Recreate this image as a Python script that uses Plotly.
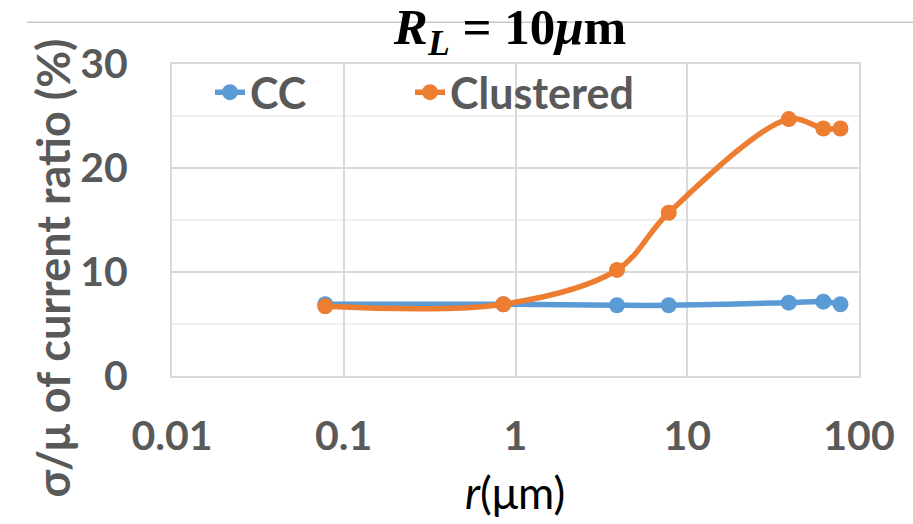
import plotly.graph_objects as go

# Radius r (µm) and relative spread σ/µ of the current ratio (%)
r_um = [0.078, 0.85, 3.9, 7.8, 39, 62, 78]
cc_pct = [6.9, 6.9, 6.8, 6.8, 7.05, 7.15, 6.9]
clustered_pct = [6.7, 6.9, 10.2, 15.7, 24.7, 23.8, 23.8]

x_ticks = [0.01, 0.1, 1, 10, 100]
x_tick_text = ["0.01", "0.1", "1", "10", "100"]
y_ticks = [0, 10, 20, 30]

BLUE = "#5B9BD5"
ORANGE = "#ED7D31"
GRID = "#D9D9D9"
LABEL = "#595959"
FONT = "Lato"

legend_font = dict(family=FONT, size=43, color=LABEL, weight="bold")

fig = go.Figure()
fig.add_trace(go.Scatter(
    x=r_um, y=cc_pct, name="CC", mode="lines+markers",
    line=dict(color=BLUE, width=5.5, shape="spline", smoothing=1),
    marker=dict(color=BLUE, size=16),
    legend="legend",
))
fig.add_trace(go.Scatter(
    x=r_um, y=clustered_pct, name="Clustered", mode="lines+markers",
    line=dict(color=ORANGE, width=5.5, shape="spline", smoothing=1),
    marker=dict(color=ORANGE, size=16),
    legend="legend2",
))

fig.update_layout(
    width=913, height=524,
    margin=dict(l=172, r=54, t=64, b=148),
    paper_bgcolor="white", plot_bgcolor="white",
    font=dict(family=FONT, color=LABEL),
    title=dict(
        text="<b><i>R</i><sub><i>L</i></sub>&nbsp;=&nbsp;10<i>μ</i>m</b>",
        font=dict(family="Liberation Serif", size=51, color="black"),
        x=0.5586, xanchor="center", xref="container",
        y=1 - 26 / 524, yanchor="middle", yref="container",
    ),
    showlegend=True,
    legend=dict(
        x=(210 - 172) / 687, y=1.02, xanchor="left", yanchor="top",
        font=legend_font, bgcolor="rgba(0,0,0,0)",
    ),
    legend2=dict(
        x=(410 - 172) / 687, y=1.02, xanchor="left", yanchor="top",
        font=legend_font, bgcolor="rgba(0,0,0,0)",
    ),
)

fig.update_xaxes(
    type="log", range=[-2, 2],
    tickvals=x_ticks, ticktext=x_tick_text,
    tickfont=dict(family=FONT, size=41, color=LABEL, weight="bold"),
    ticklabelstandoff=23,
    showgrid=True, gridcolor=GRID, gridwidth=2,
    showline=True, linecolor=GRID, linewidth=2, mirror=True,
    zeroline=False, ticks="",
)
fig.update_yaxes(
    range=[0, 30], tickvals=y_ticks,
    tickfont=dict(family=FONT, size=41, color=LABEL, weight="bold"),
    ticklabelstandoff=34,
    showgrid=True, gridcolor=GRID, gridwidth=2,
    minor=dict(dtick=5, showgrid=True, gridcolor="#EFEFEF", gridwidth=2),
    showline=True, linecolor=GRID, linewidth=2, mirror=True,
    zeroline=False, ticks="",
)

# Thin rule across the top of the figure
fig.add_shape(
    type="line", xref="paper", yref="paper",
    x0=(27 - 172) / 687, x1=(913 - 172) / 687,
    y0=1 + (64 - 22.3) / 312, y1=1 + (64 - 22.3) / 312,
    line=dict(color="#C8C8C8", width=1.5), layer="below",
)

# Axis titles
fig.add_annotation(
    text="<b>σ/μ of current ratio (%)</b>",
    xref="paper", yref="paper",
    x=(52 - 172) / 687, y=(376 - 268.5) / 312,
    xanchor="center", yanchor="middle", textangle=-90, showarrow=False,
    font=dict(family=FONT, size=45, color=LABEL),
)
fig.add_annotation(
    text="<i>r</i>(μm)",
    xref="paper", yref="paper",
    x=(515 - 172) / 687, y=(376 - 492) / 312,
    xanchor="center", yanchor="middle", showarrow=False,
    font=dict(family=FONT, size=44, color="black"),
)

fig.write_html("out.html")
